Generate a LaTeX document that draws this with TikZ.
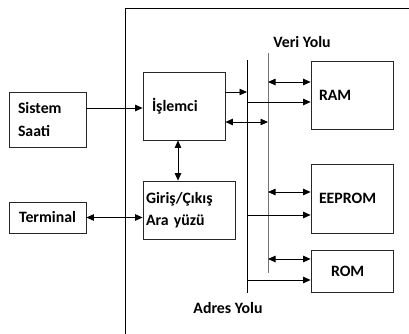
\documentclass[tikz,border=0pt]{standalone}
\usepackage{fontspec}
\setmainfont{Carlito}
\usetikzlibrary{arrows.meta,positioning}

\begin{document}
\begin{tikzpicture}[
	x=1pt, y=-1pt,
	box/.style={rectangle, draw=black!85, line width=0.8pt, align=left, inner ysep=0pt, font=\fontsize{15.8}{22.5}\selectfont\bfseries},
	lbl/.style={font=\fontsize{15.8}{18}\selectfont\bfseries},
	arr/.style={-{Triangle[length=7.5pt,width=6.5pt]}, line width=0.8pt},
	darr/.style={{Triangle[length=7.5pt,width=6.5pt]}-{Triangle[length=7.5pt,width=6.5pt]}, line width=0.8pt},
	bus/.style={line width=0.9pt}
	]
	\useasboundingbox (0,0) rectangle (409,334);
	
	% outer frame
	\draw[line width=0.8pt] (125,334) -- (125,8) -- (409,8);
	
	% blocks
	\node[box, minimum height=55pt, inner xsep=9pt, text width=59pt] (saat) at (47.5,119.5) {Sistem\\Saati};
	\node[box, minimum height=31pt, align=center, inner xsep=1pt, text width=75pt] (terminal) at (47.5,217.5) {Terminal};
	\node[box, minimum height=68pt, inner xsep=9pt, text width=64pt] (islemci) at (184,106) {İşlemci};
	\node[box, minimum height=58pt, inner xsep=3pt, text width=86pt] (giris) at (189,210) {Giriş/Çıkış\\Ara yüzü};
	\node[box, minimum height=68pt, inner xsep=8pt, text width=66pt] (ram) at (352,95) {RAM};
	\node[box, minimum height=69pt, inner xsep=8pt, text width=66pt] (eeprom) at (352,198.5) {EEPROM};
	\node[box, minimum height=42pt, inner xsep=20pt, text width=42pt] (rom) at (352,271) {ROM};
	
	% buses
	\coordinate (abus) at (247,60);
	\coordinate (abusend) at (247,293);
	\coordinate (dbus) at (268,53);
	\coordinate (dbusend) at (268,273);
	\draw[bus] (abus) -- (abusend);
	\draw[bus, black!55] (dbus) -- (dbusend);
	\node[lbl] (veri) at (302,42) {Veri Yolu};
	\node[lbl] (adres) at (228,308) {Adres Yolu};
	
	% connections
	\draw[arr] (saat.east |- 0,108) -- (islemci.west |- 0,108);
	\draw[darr] (terminal.east) -- (giris.west |- terminal.east);
	\draw[darr] (178,0 |- islemci.south) -- (178,0 |- giris.north);
	\draw[arr] (islemci.east |- 0,92) -- (abus |- 0,92);
	\draw[darr] (islemci.east |- 0,122) -- (dbus |- 0,122);
	
	\draw[darr] (dbus |- 0,82) -- (ram.west |- 0,82);
	\draw[arr] (abus |- 0,102) -- (ram.west |- 0,102);
	\draw[darr] (dbus |- 0,192) -- (eeprom.west |- 0,192);
	\draw[arr] (abus |- 0,215) -- (eeprom.west |- 0,215);
	\draw[darr] (dbus |- 0,259) -- (rom.west |- 0,259);
	\draw[arr] (abus |- 0,280) -- (rom.west |- 0,280);
	
\end{tikzpicture}
\end{document}
